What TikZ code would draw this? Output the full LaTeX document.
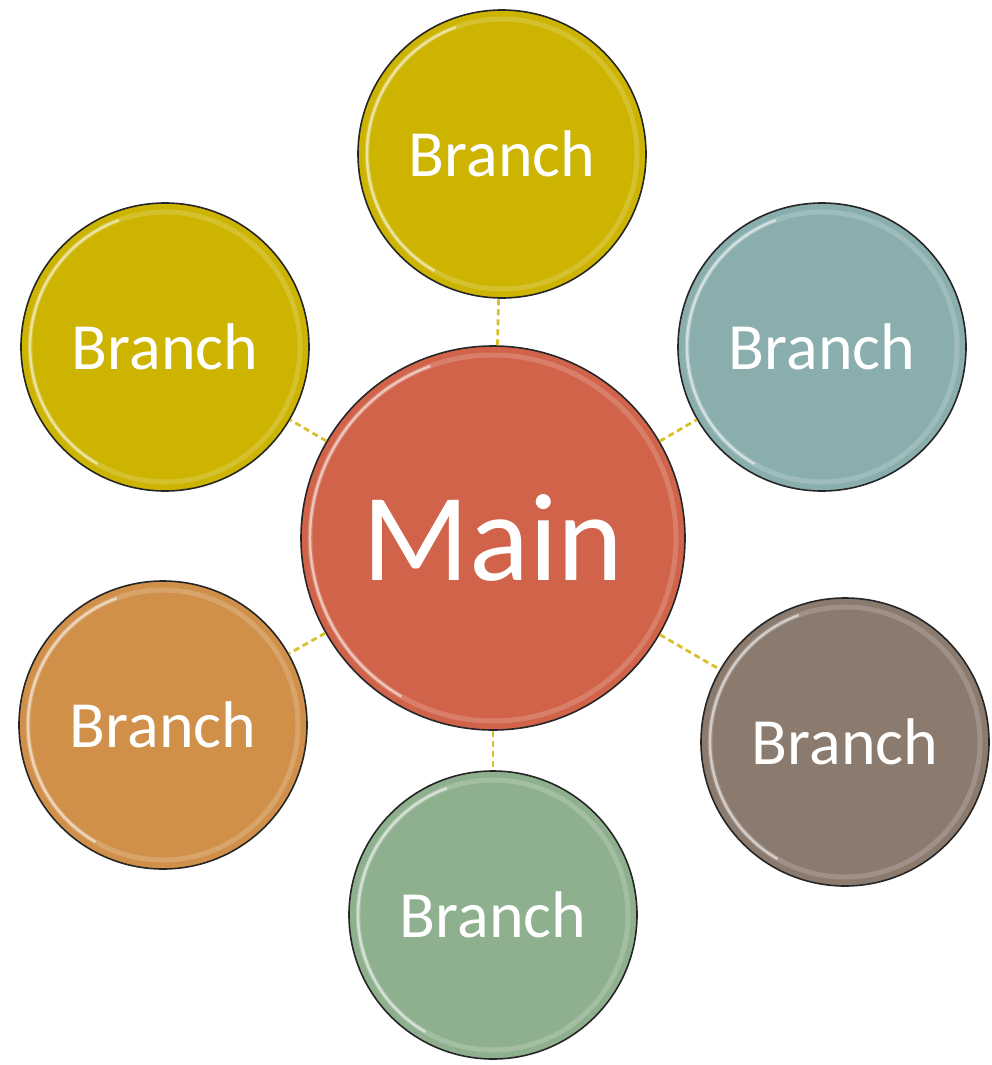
\documentclass[tikz,border=0pt]{standalone}
\usepackage{fontspec}
\setmainfont{Carlito}
\definecolor{cyellow}{HTML}{CCB400}
\definecolor{cteal}{HTML}{8AAEAE}
\definecolor{cbrown}{HTML}{8B7A6E}
\definecolor{cgreen}{HTML}{8FB08E}
\definecolor{corange}{HTML}{D0904A}
\definecolor{cmain}{HTML}{D0634A}
\definecolor{clink}{HTML}{D6C12A}
\tikzset{
  bubble/.style={circle, draw=black!85, line width=1.6pt, inner sep=0pt, text=white},
  branch/.style={bubble, minimum size=288pt, font=\fontsize{66}{66}\selectfont},
  mainnode/.style={bubble, minimum size=384pt, font=\fontsize{125}{125}\selectfont},
  link/.style={clink, line width=2.8pt, dash pattern=on 6pt off 4pt},
}
\newcommand{\gloss}[2]{%
  \draw[white, opacity=0.18, line width=5pt] (#1) circle (#2);
  \draw[white, opacity=0.55, line width=2.5pt] (#1) ++(120:#2) arc (120:250:#2);
}
\begin{document}
\begin{tikzpicture}[x=1pt,y=-1pt]
\useasboundingbox (0,0) rectangle (992,1065);
\node[mainnode, fill=cmain] (main) at (493,538) {Main};
\node[branch, fill=cyellow] (top) at (502,154) {Branch};
\node[branch, fill=cyellow] (ul) at (165,347) {Branch};
\node[branch, fill=cteal] (ur) at (822,347) {Branch};
\node[branch, fill=corange] (ll) at (163,725) {Branch};
\node[branch, fill=cbrown] (lr) at (845,742) {Branch};
\node[branch, fill=cgreen] (bot) at (493,915) {Branch};
\gloss{main}{183}
\gloss{top}{135}
\gloss{ul}{135}
\gloss{ur}{135}
\gloss{ll}{135}
\gloss{lr}{135}
\gloss{bot}{135}
\draw[link] (main) -- (top);
\draw[link] (main) -- (ul);
\draw[link] (main) -- (ur);
\draw[link] (main) -- (ll);
\draw[link] (main) -- (lr);
\draw[link] (main) -- (bot);
\end{tikzpicture}
\end{document}
